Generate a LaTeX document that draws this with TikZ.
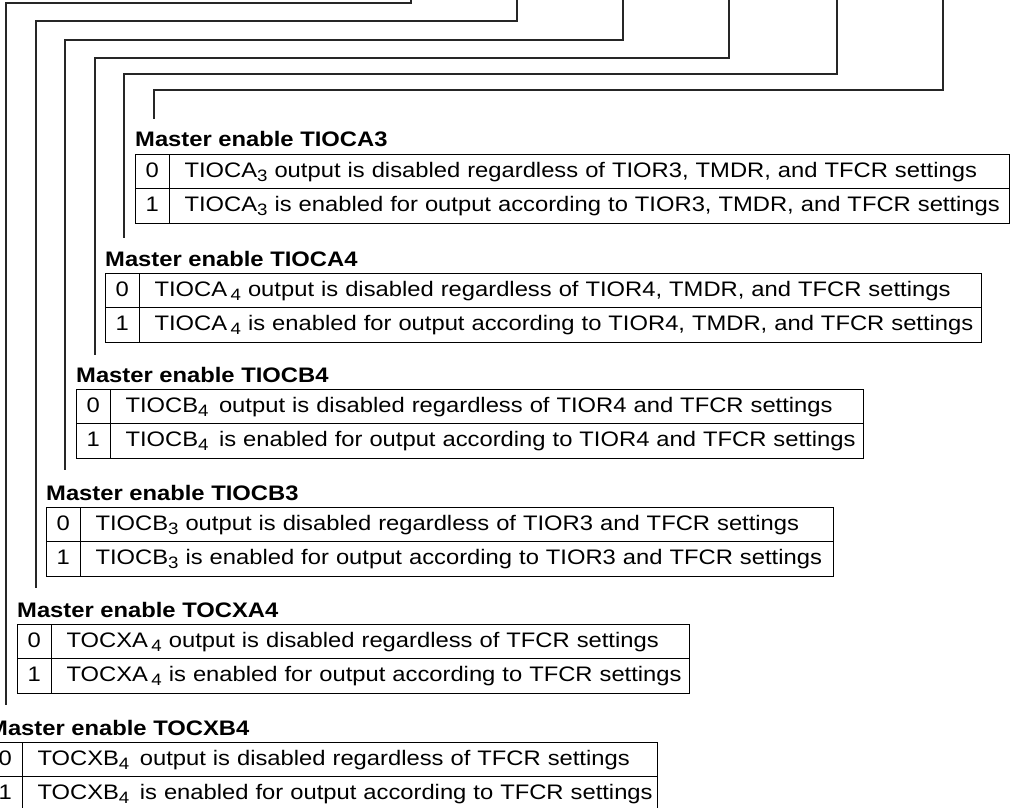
\documentclass[tikz,border=0pt]{standalone}
\usepackage{fontspec}
\setmainfont{Liberation Sans}[FakeStretch=1.132]
\newcommand{\idx}[1]{\raisebox{-4pt}{\fontsize{16.5}{16.5}\selectfont #1}}

\begin{document}
\begin{tikzpicture}[x=1pt,y=-1pt,
  font=\fontsize{21}{25}\selectfont,
  wire/.style={line width=1.2pt, black!85},
  title/.style={anchor=base west, inner sep=0pt, font=\fontsize{21}{25}\selectfont\bfseries},
  bitcell/.style={draw, line width=1pt, outer sep=0pt, anchor=north west, minimum width=34.5pt, minimum height=34.5pt, inner sep=0pt, text height=15.5pt, text depth=4pt},
  desccell/.style={draw, line width=1pt, outer sep=0pt, anchor=north west, minimum height=34.5pt, inner xsep=15pt, inner ysep=0pt, text height=15.5pt, text depth=4pt, align=left,
    execute at begin node=\hbox\bgroup, execute at end node=\egroup}]

\clip (0,0) rectangle (1011,807);

% Wires
\coordinate (a3top) at (943,-5);  \coordinate (a3bend) at (154,90); \coordinate (a3end) at (154,119);
\coordinate (a4top) at (837,-5);  \coordinate (a4bend) at (124,74); \coordinate (a4end) at (124,238);
\coordinate (b4top) at (729,-5);  \coordinate (b4bend) at (95,58);  \coordinate (b4end) at (95,355);
\coordinate (b3top) at (623,-5);  \coordinate (b3bend) at (65,40);  \coordinate (b3end) at (65,470);
\coordinate (xa4top) at (517,-5); \coordinate (xa4bend) at (36,21); \coordinate (xa4end) at (36,588);
\coordinate (xb4top) at (411,-5); \coordinate (xb4bend) at (6,3);   \coordinate (xb4end) at (6,705);

\draw[wire] (a3top) |- (a3bend) -- (a3end);
\draw[wire] (a4top) |- (a4bend) -- (a4end);
\draw[wire] (b4top) |- (b4bend) -- (b4end);
\draw[wire] (b3top) |- (b3bend) -- (b3end);
\draw[wire] (xa4top) |- (xa4bend) -- (xa4end);
\draw[wire] (xb4top) |- (xb4bend) -- (xb4end);

% TIOCA3
\node[title] (a3title) at (135,146) {Master enable TIOCA3};
\node[bitcell] (a3bit0) at (135,154) {0};
\node[desccell, text width=809.5pt] (a3row0) at (a3bit0.north east) {TIOCA\idx{3} output is disabled regardless of TIOR3, TMDR, and TFCR settings};
\node[bitcell] (a3bit1) at (a3bit0.south west) {1};
\node[desccell, text width=809.5pt] (a3row1) at (a3bit1.north east) {TIOCA\idx{3} is enabled for output according to TIOR3, TMDR, and TFCR settings};

% TIOCA4
\node[title] (a4title) at (105,266) {Master enable TIOCA4};
\node[bitcell] (a4bit0) at (105,273) {0};
\node[desccell, text width=811.5pt] (a4row0) at (a4bit0.north east) {TIOCA\,\idx{4} output is disabled regardless of TIOR4, TMDR, and TFCR settings};
\node[bitcell] (a4bit1) at (a4bit0.south west) {1};
\node[desccell, text width=811.5pt] (a4row1) at (a4bit1.north east) {TIOCA\,\idx{4} is enabled for output according to TIOR4, TMDR, and TFCR settings};

% TIOCB4
\node[title] (b4title) at (76,382) {Master enable TIOCB4};
\node[bitcell] (b4bit0) at (76,389) {0};
\node[desccell, text width=722.5pt] (b4row0) at (b4bit0.north east) {TIOCB\idx{4}\, output is disabled regardless of TIOR4 and TFCR settings};
\node[bitcell] (b4bit1) at (b4bit0.south west) {1};
\node[desccell, text width=722.5pt] (b4row1) at (b4bit1.north east) {TIOCB\idx{4}\, is enabled for output according to TIOR4 and TFCR settings};

% TIOCB3
\node[title] (b3title) at (46,500) {Master enable TIOCB3};
\node[bitcell] (b3bit0) at (46,507) {0};
\node[desccell, text width=722.5pt] (b3row0) at (b3bit0.north east) {TIOCB\idx{3} output is disabled regardless of TIOR3 and TFCR settings};
\node[bitcell] (b3bit1) at (b3bit0.south west) {1};
\node[desccell, text width=722.5pt] (b3row1) at (b3bit1.north east) {TIOCB\idx{3} is enabled for output according to TIOR3 and TFCR settings};

% TOCXA4
\node[title] (xa4title) at (17,617) {Master enable TOCXA4};
\node[bitcell] (xa4bit0) at (17,624) {0};
\node[desccell, text width=607.5pt] (xa4row0) at (xa4bit0.north east) {TOCXA\,\idx{4} output is disabled regardless of TFCR settings};
\node[bitcell] (xa4bit1) at (xa4bit0.south west) {1};
\node[desccell, text width=607.5pt] (xa4row1) at (xa4bit1.north east) {TOCXA\,\idx{4} is enabled for output according to TFCR settings};

% TOCXB4
\node[title] (xb4title) at (-12,735) {Master enable TOCXB4};
\node[bitcell] (xb4bit0) at (-12,742) {0};
\node[desccell, text width=604.5pt] (xb4row0) at (xb4bit0.north east) {TOCXB\idx{4}\, output is disabled regardless of TFCR settings};
\node[bitcell] (xb4bit1) at (xb4bit0.south west) {1};
\node[desccell, text width=604.5pt] (xb4row1) at (xb4bit1.north east) {TOCXB\idx{4}\, is enabled for output according to TFCR settings};
\end{tikzpicture}
\end{document}
